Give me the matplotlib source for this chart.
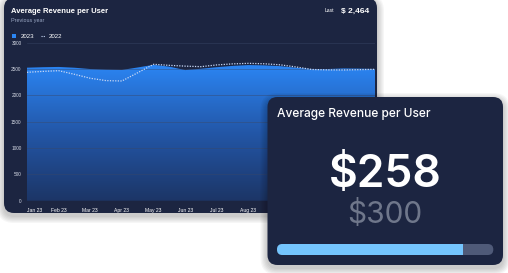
import matplotlib
matplotlib.use("Agg")
import matplotlib.pyplot as plt
import numpy as np
from matplotlib.colors import LinearSegmentedColormap
from matplotlib.patches import FancyBboxPatch, Polygon, Rectangle

# --- data -------------------------------------------------------------
months = ["Jan 23", "Feb 23", "Mar 23", "Apr 23", "May 23", "Jun 23",
          "Jul 23", "Aug 23", "Sep 23", "Oct 23", "Nov 23", "Dec 23"]
# values read twice a month (1st and mid-month), Jan 1 .. Dec 1
arpu_2023 = [2526, 2535, 2540, 2525, 2500, 2488, 2482, 2530, 2580, 2545,
             2480, 2505, 2535, 2560, 2575, 2570, 2555, 2525, 2500, 2500,
             2512, 2508, 2500]
arpu_2022 = [2438, 2455, 2469, 2400, 2325, 2280, 2273, 2430, 2590, 2570,
             2555, 2545, 2578, 2598, 2608, 2600, 2580, 2540, 2492, 2484,
             2482, 2488, 2495]
y_ticks = [0, 500, 1000, 1500, 2000, 2500, 3000]
last_label = "$ 2,464"
arpu_now = 258
arpu_target = 300

W, H = 508, 273
CARD = "#1c2541"
plt.rcParams["font.family"] = ["Liberation Sans", "DejaVu Sans"]
BIG = ["Inter", "Liberation Sans", "DejaVu Sans"]

fig = plt.figure(figsize=(W / 100, H / 100), dpi=100, facecolor="white")


def pixel_axes(z):
    ax = fig.add_axes([0, 0, 1, 1], zorder=z)
    ax.set_xlim(0, W)
    ax.set_ylim(H, 0)
    ax.axis("off")
    ax.patch.set_alpha(0)
    return ax


def card(ax, x0, y0, x1, y1, r):
    # soft shadow
    for i in range(6):
        p = 1 + i * 1.2
        ax.add_patch(FancyBboxPatch((x0 + r, y0 + r + 3), x1 - x0 - 2 * r, y1 - y0 - 2 * r,
                                    boxstyle=f"round,pad={r + p}", fc="black", ec="none",
                                    alpha=0.035))
    ax.add_patch(FancyBboxPatch((x0 + r, y0 + r), x1 - x0 - 2 * r, y1 - y0 - 2 * r,
                                boxstyle=f"round,pad={r}", fc=CARD, ec="none"))


# --- back card ----------------------------------------------------------
bg = pixel_axes(0)
card(bg, 4, -2, 377, 213, 10)
bg.text(11, 12.7, "Average Revenue per User", color="white", fontsize=5.5,
        fontweight="bold", va="baseline")
bg.text(11, 22, "Previous year", color="#9aa7c4", fontsize=3.9, va="baseline")
bg.add_patch(Rectangle((12, 34), 4.3, 4.3, fc="#2b86f5", ec="none"))
bg.text(20.5, 37.8, "2023", color="white", fontsize=4.4, va="baseline")
bg.plot([40.5, 45], [36.2, 36.2], color="#c8d8f5", lw=0.8, ls=(0, (1, 1)))
bg.text(49, 37.8, "2022", color="white", fontsize=4.4, va="baseline")
bg.text(325, 12.5, "Last", color="white", fontsize=3.6, va="baseline")
bg.text(369.5, 12.7, last_label, color="white", fontsize=6, fontweight="bold",
        va="baseline", ha="right")

# --- chart --------------------------------------------------------------
top_px, bot_px, left_px, right_px = 42.7, 200.7, 27, 375
ax = fig.add_axes([left_px / W, 1 - bot_px / H, (right_px - left_px) / W,
                   (bot_px - top_px) / H], zorder=1)
ax.patch.set_alpha(0)
x = np.arange(len(arpu_2023)) / 2
ax.set_xlim(0, 11)
ax.set_ylim(0, 3000)

cmap = LinearSegmentedColormap.from_list(
    "area", ["#1c3566", "#2357a8", "#2b86f5"])
poly = Polygon([(0, 0)] + list(zip(x, arpu_2023)) + [(11, 0)], closed=True,
               fc="none", ec="none")
ax.add_patch(poly)
img = ax.imshow(np.linspace(1, 0, 256).reshape(-1, 1), cmap=cmap,
                extent=[0, 11, 0, 2620], aspect="auto", origin="upper", zorder=1)
img.set_clip_path(poly)
ax.plot(x, arpu_2022, color="#c8d8f5", lw=0.9, ls=(0, (1, 1.1)), zorder=3)

ax.set_yticks(y_ticks)
ax.set_yticklabels([str(v) for v in y_ticks])
# Sep..Dec sit under the front card, so only the visible months get labels
shown = months[:8]
ax.set_xticks(range(len(shown)))
ax.set_xticklabels(shown)
ax.get_xticklabels()[0].set_ha("left")
ax.grid(True, axis="y", color="#3a4868", lw=0.5, alpha=0.6, zorder=2)
ax.set_axisbelow(False)
ax.tick_params(axis="y", length=0, pad=4, labelsize=3.4, labelcolor="#d6dbe6")
ax.tick_params(axis="x", length=0, pad=5.5, labelsize=3.6, labelcolor="white")
for s in ax.spines.values():
    s.set_visible(False)

# --- front card ---------------------------------------------------------
fg = pixel_axes(2)
card(fg, 267.5, 97, 503, 265, 10)
fg.text(277.3, 117, "Average Revenue per User", color="white", fontsize=8.6,
        va="baseline", family=BIG, fontweight="medium")
fg.text(385, 186.7, f"${arpu_now}", color="white", fontsize=32, ha="center",
        va="baseline", family=BIG, fontweight="semibold")
fg.text(385, 223.3, f"${arpu_target}", color="#6f778b", fontsize=21.5, ha="center",
        va="baseline", family=BIG)

bx0, bx1, by0, by1 = 277, 493.3, 244, 255
r = (by1 - by0) / 2
fg.add_patch(FancyBboxPatch((bx0, by0), bx1 - bx0, by1 - by0,
                            boxstyle=f"round,pad=0,rounding_size={r}",
                            fc="#4f5a78", ec="none"))
fill = FancyBboxPatch((bx0, by0), bx1 - bx0, by1 - by0,
                      boxstyle=f"round,pad=0,rounding_size={r}",
                      fc="#74c5fe", ec="none")
fg.add_patch(fill)
clip = Rectangle((bx0 - 1, by0 - 1), (bx1 - bx0) * arpu_now / arpu_target + 1,
                 by1 - by0 + 2, transform=fg.transData)
fill.set_clip_path(clip)

fig.savefig("out.png", dpi=100, facecolor="white")
